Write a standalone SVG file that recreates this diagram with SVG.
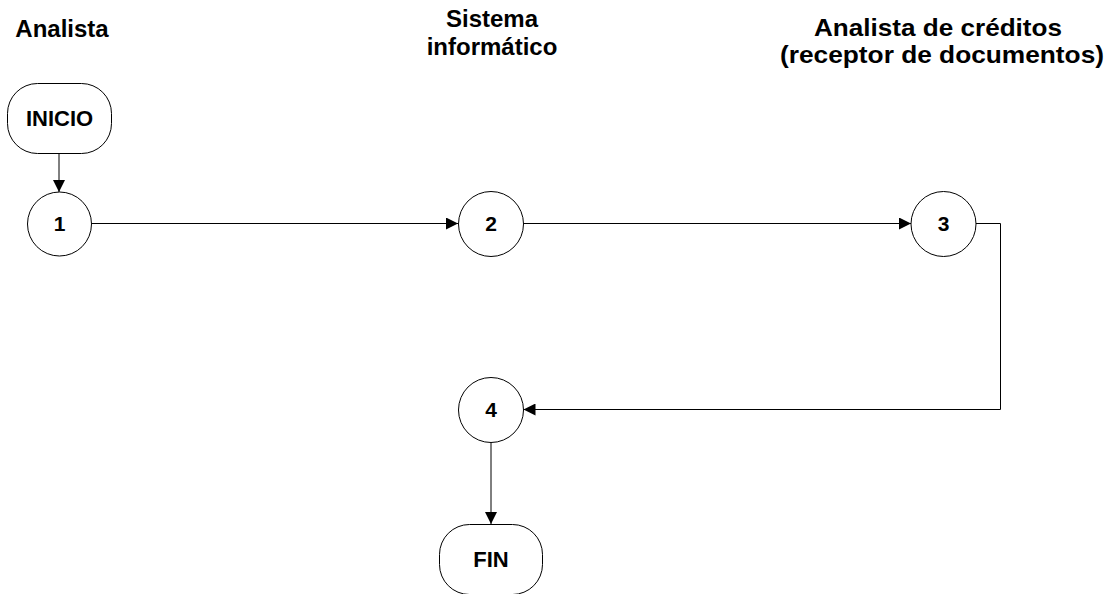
<svg xmlns="http://www.w3.org/2000/svg" width="1113" height="594" viewBox="0 0 1113 594">
  <style>
    text { font-family: "Liberation Sans", Arial, sans-serif; font-weight: bold; fill: #000; }
    .lane { font-size: 24px; text-anchor: middle; }
    .term-label { font-size: 22px; text-anchor: middle; }
    .step-label { font-size: 21px; text-anchor: middle; }
    .terminal, .step { fill: #fff; stroke: #000; stroke-width: 1; }
    .flow { fill: none; stroke: #000; stroke-width: 1; marker-end: url(#arrow); }
  </style>
  <defs>
    <marker id="arrow" viewBox="0 0 12 12" refX="12" refY="6" markerWidth="12" markerHeight="12" markerUnits="userSpaceOnUse" orient="auto">
      <path d="M0,0 L12,6 L0,12 Z" fill="#000"/>
    </marker>
  </defs>
  <rect width="1113" height="594" fill="#fff"/>

  <!-- lane headings -->
  <g id="lanes">
    <text class="lane" x="62" y="37">Analista</text>
    <text class="lane" x="492" y="27">Sistema<tspan x="492" dy="28">informático</tspan></text>
    <text class="lane" x="938" y="36" textLength="248" lengthAdjust="spacingAndGlyphs">Analista de créditos</text>
    <text class="lane" x="942" y="63" textLength="324" lengthAdjust="spacingAndGlyphs">(receptor de documentos)</text>
  </g>

  <!-- connectors -->
  <g id="connectors">
    <path class="flow" d="M59,153 V192"/>
    <path class="flow" d="M91.5,223.5 H458"/>
    <path class="flow" d="M523.5,223.5 H911"/>
    <path class="flow" d="M976,223.5 H1000.5 V409.5 H523.5"/>
    <path class="flow" d="M491,443 V524"/>
  </g>

  <g id="node-inicio">
    <rect class="terminal" x="7.5" y="83.5" width="104" height="70" rx="30" ry="30"/>
    <text class="term-label" x="59.5" y="126">INICIO</text>
  </g>
  <g id="node-1">
    <circle class="step" cx="59.5" cy="224" r="32"/>
    <text class="step-label" x="59.5" y="231">1</text>
  </g>
  <g id="node-2">
    <circle class="step" cx="491" cy="224" r="32.5"/>
    <text class="step-label" x="491" y="231">2</text>
  </g>
  <g id="node-3">
    <circle class="step" cx="943.5" cy="224" r="32.5"/>
    <text class="step-label" x="943.5" y="231">3</text>
  </g>
  <g id="node-4">
    <circle class="step" cx="491" cy="410" r="32.5"/>
    <text class="step-label" x="491" y="417">4</text>
  </g>
  <g id="node-fin">
    <rect class="terminal" x="439.5" y="524.5" width="103" height="70" rx="30" ry="30"/>
    <text class="term-label" x="491" y="567">FIN</text>
  </g>
</svg>
